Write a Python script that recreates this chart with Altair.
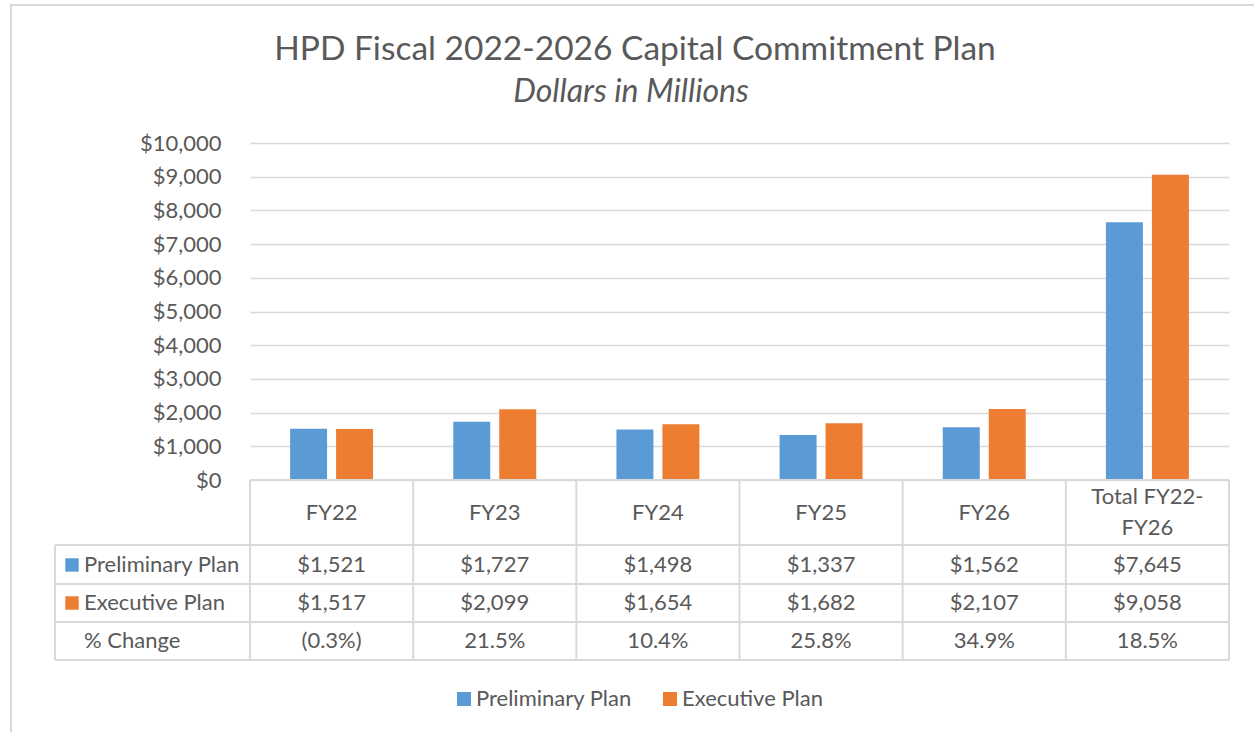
import altair as alt
import pandas as pd

categories = ["FY22", "FY23", "FY24", "FY25", "FY26", "Total FY22-FY26"]
header_labels = ["FY22", "FY23", "FY24", "FY25", "FY26", "Total FY22-\nFY26"]
series = ["Preliminary Plan", "Executive Plan"]
preliminary = [1521, 1727, 1498, 1337, 1562, 7645]
executive = [1517, 2099, 1654, 1682, 2107, 9058]
pct_change = ["(0.3%)", "21.5%", "10.4%", "25.8%", "34.9%", "18.5%"]
y_ticks = [0, 1000, 2000, 3000, 4000, 5000, 6000, 7000, 8000, 9000, 10000]

colors = ["#5B9BD5", "#ED7D31"]
TXT = "#595959"
LINE = "#D9D9D9"
FONT = "Lato"
FS = 22

rows = []
for c, p, e in zip(categories, preliminary, executive):
    rows.append({"cat": c, "series": "Preliminary Plan", "value": p})
    rows.append({"cat": c, "series": "Executive Plan", "value": e})
bars_df = pd.DataFrame(rows)

table_df = pd.DataFrame({
    "cat": categories,
    "header": header_labels,
    "prelim": ["${:,}".format(v) for v in preliminary],
    "exec": ["${:,}".format(v) for v in executive],
    "pct": pct_change,
})

W, H = 979, 337
TOP = 143  # plot-area top in page pixels

xscale = alt.Scale(domain=categories, paddingInner=0, paddingOuter=0)
color_scale = alt.Scale(domain=series, range=colors)
X = alt.X("cat:N", sort=categories, scale=xscale, axis=None)

bars = alt.Chart(bars_df).mark_bar().encode(
    x=X,
    xOffset=alt.XOffset("series:N", sort=series,
                        scale=alt.Scale(domain=series, paddingInner=0.196, paddingOuter=0.872)),
    y=alt.Y("value:Q", scale=alt.Scale(domain=[0, 10000]),
            axis=alt.Axis(values=y_ticks, format="$,.0f", title=None, domain=False, ticks=False,
                          labelPadding=29, labelFontSize=FS, labelFont=FONT, labelColor=TXT,
                          gridColor=LINE, gridWidth=1.5)),
    color=alt.Color("series:N", sort=series, scale=color_scale,
                    legend=alt.Legend(title=None, orient="none", legendX=203, legendY=545,
                                      direction="horizontal", symbolType="square", symbolSize=196,
                                      symbolStrokeWidth=0, labelFontSize=FS, labelFont=FONT,
                                      labelColor=TXT, labelOffset=1, columnPadding=27,
                                      padding=0)),
)

one = alt.Data(values=[{}])
layers = [bars]

def py(v):
    return v - TOP

# table horizontal lines
layers.append(alt.Chart(one).mark_rule(color=LINE, strokeWidth=2).encode(
    x=alt.value(0), x2=alt.value(W), y=alt.value(H)))
for yy in [545, 584, 622, 660]:
    layers.append(alt.Chart(one).mark_rule(color=LINE, strokeWidth=2).encode(
        x=alt.value(-195), x2=alt.value(W), y=alt.value(py(yy))))

# table vertical lines
layers.append(alt.Chart(table_df).mark_rule(color=LINE, strokeWidth=2).encode(
    x=alt.X("cat:N", sort=categories, scale=xscale, axis=None, bandPosition=0),
    y=alt.value(H), y2=alt.value(py(660))))
layers.append(alt.Chart(one).mark_rule(color=LINE, strokeWidth=2).encode(
    x=alt.value(W), y=alt.value(H), y2=alt.value(py(660))))
layers.append(alt.Chart(one).mark_rule(color=LINE, strokeWidth=2).encode(
    x=alt.value(-195), y=alt.value(py(545)), y2=alt.value(py(660))))

def tbl_text(field, ypix, data=table_df):
    return alt.Chart(data).mark_text(font=FONT, fontSize=FS, color=TXT, baseline="middle",
                                     lineBreak="\n", lineHeight=31).encode(
        x=X, y=alt.value(py(ypix)), text=f"{field}:N")

layers.append(tbl_text("header", 513).transform_filter("indexof(datum.header, '\\n') < 0"))
layers.append(tbl_text("header", 497).transform_filter("indexof(datum.header, '\\n') >= 0"))
layers.append(tbl_text("prelim", 565))
layers.append(tbl_text("exec", 603))
layers.append(tbl_text("pct", 641))

# row labels
for s, ypix in zip(series, [565, 603]):
    layers.append(alt.Chart(pd.DataFrame({"series": [s]})).mark_point(
        shape="square", filled=True, size=180, opacity=1).encode(
        x=alt.value(-178), y=alt.value(py(ypix)),
        color=alt.Color("series:N", sort=series, scale=color_scale, legend=None)))
    layers.append(alt.Chart(pd.DataFrame({"t": [s]})).mark_text(
        font=FONT, fontSize=FS, color=TXT, align="left", baseline="middle").encode(
        x=alt.value(-166), y=alt.value(py(ypix)), text="t:N"))
layers.append(alt.Chart(pd.DataFrame({"t": ["% Change"]})).mark_text(
    font=FONT, fontSize=FS, color=TXT, align="left", baseline="middle").encode(
    x=alt.value(-166), y=alt.value(py(641)), text="t:N"))

# titles
layers.append(alt.Chart(pd.DataFrame({"t": ["HPD Fiscal 2022-2026 Capital Commitment Plan"]})).mark_text(
    font=FONT, fontSize=33.5, color=TXT, align="center", baseline="middle").encode(
    x=alt.value(385), y=alt.value(py(50)), text="t:N"))
layers.append(alt.Chart(pd.DataFrame({"t": ["Dollars in Millions"]})).mark_text(
    font=FONT, fontSize=32, fontStyle="italic", color=TXT, align="center", baseline="middle").encode(
    x=alt.value(381), y=alt.value(py(92)), text="t:N"))

# outer chart border
layers.append(alt.Chart(one).mark_rect(fill=None, stroke=LINE, strokeWidth=2).encode(
    x=alt.value(-239), x2=alt.value(1030), y=alt.value(-138), y2=alt.value(620)))

chart = alt.layer(*layers).properties(
    width=W, height=H,
    background="white",
    autosize=alt.AutoSizeParams(type="none"),
    padding={"left": 250, "top": 143, "right": 25, "bottom": 252},
).configure_view(strokeWidth=0, stroke="transparent")

chart.save("out.html", embed_options={"renderer": "svg", "actions": False})
